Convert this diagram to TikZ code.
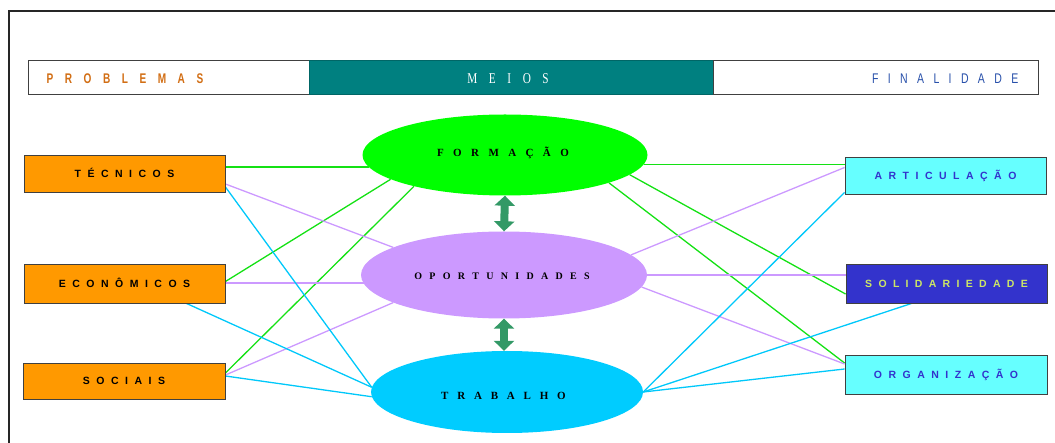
\documentclass[tikz,border=0pt]{standalone}
\usepackage{fontspec}
\usepackage{graphicx}
\setmainfont{Liberation Serif}
\setsansfont{Liberation Sans}
\usetikzlibrary{shapes.geometric,arrows.meta,calc}
\pgfdeclarelayer{background}
\pgfsetlayers{background,main}
\definecolor{cOrange}{RGB}{255,153,0}
\definecolor{cCyan}{RGB}{102,255,255}
\definecolor{cNavy}{RGB}{51,51,204}
\definecolor{cTeal}{RGB}{0,128,128}
\definecolor{cGreenF}{RGB}{0,255,0}
\definecolor{cPurple}{RGB}{204,153,255}
\definecolor{cSky}{RGB}{0,204,255}
\definecolor{cLineG}{RGB}{20,225,20}
\definecolor{cLineP}{RGB}{204,153,255}
\definecolor{cLineB}{RGB}{0,200,250}
\definecolor{cArrow}{RGB}{51,153,102}
\definecolor{cProb}{RGB}{210,110,20}
\definecolor{cFin}{RGB}{40,80,170}
\definecolor{cSolT}{RGB}{204,230,102}
\newcommand\spacedtext[2]{{\def\sptgap{#1}\sptloop#2\relax}}
\def\sptloop#1{\ifx\relax#1\unskip\else#1\hskip\sptgap\relax\expandafter\sptloop\fi}
\begin{document}
\begin{tikzpicture}[x=1pt,y=-1pt,
  lbox/.style={rectangle, draw=black!75, line width=0.9pt, minimum width=201pt,
    minimum height=37pt, inner sep=0pt, text height=7.5pt, text depth=0pt,
    font=\sffamily\bfseries\fontsize{10.5}{10.5}\selectfont},
  ell/.style={ellipse, inner sep=0pt, text height=7.5pt, text depth=0pt,
    font=\rmfamily\bfseries\fontsize{11}{11}\selectfont},
  hbox/.style={rectangle, draw=black!75, line width=1pt, minimum height=34pt, inner sep=0pt},
  htext/.style={inner sep=0pt, text height=10pt, text depth=0pt,
    font=\sffamily\bfseries\fontsize{14}{14}\selectfont},
  gl/.style={draw=cLineG, line width=1.3pt},
  pl/.style={draw=cLineP, line width=1.3pt},
  bl/.style={draw=cLineB, line width=1.3pt},
  dbl/.style={draw=cArrow, line width=8pt,
    {Triangle[width=20pt,length=10pt]}-{Triangle[width=20pt,length=10pt]}}
]
\useasboundingbox (0,0) rectangle (1055,443);
% frame
\draw[line width=2pt, black!85] (1055,11) -- (9,11) -- (9,443);

% header
\node[hbox, fill=white, minimum width=281pt] (hp) at (168.5,78) {};
\node[hbox, fill=cTeal, draw=cTeal!80!black, minimum width=404pt] (hm) at (511,78) {};
\node[hbox, fill=white, minimum width=325pt] (hf) at (875.5,78) {};
\node[htext, text=cProb, anchor=west] (tp) at ([xshift=19pt,yshift=-1pt]hp.west)
  {\scalebox{0.72}[1]{\spacedtext{16pt}{PROBLEMAS}}};
\node[htext, text=white, font=\rmfamily\fontsize{15}{15}\selectfont] (tm) at ([xshift=-3pt,yshift=-1pt]hm.center)
  {\scalebox{0.75}[1]{\spacedtext{15.5pt}{MEIOS}}};
\node[htext, font=\sffamily\fontsize{14}{14}\selectfont, text=cFin, anchor=east] (tf) at ([xshift=-20pt,yshift=-1pt]hf.east)
  {\scalebox{0.75}[1]{\spacedtext{12.5pt}{FINALIDADE}}};

% left boxes
\node[lbox, fill=cOrange] (tec) at (124.5,173.5) {\spacedtext{6.5pt}{TÉCNICOS}};
\node[lbox, fill=cOrange, minimum height=39pt] (eco) at (124.5,283.5) {\spacedtext{6.5pt}{ECONÔMICOS}};
\node[lbox, fill=cOrange, minimum width=202pt, minimum height=36pt] (soc) at (124,381) {\spacedtext{6.5pt}{SOCIAIS}};

% right boxes
\node[lbox, fill=cCyan, text=cNavy] (art) at (945.5,175.5) {\spacedtext{6.5pt}{ARTICULAÇÃO}};
\node[lbox, fill=cNavy, text=cSolT, minimum height=39pt] (sol) at (946.5,283.5) {\spacedtext{6.3pt}{SOLIDARIEDADE}};
\node[lbox, fill=cCyan, text=cNavy, minimum width=202pt, minimum height=39pt] (org) at (946,374.5) {\spacedtext{6.5pt}{ORGANIZAÇÃO}};

% ellipses
\node[ell, fill=cGreenF, minimum width=285pt, minimum height=81pt] (form) at (505,155) {};
\node[ell, anchor=center] (tform) at (503,153) {\spacedtext{9.4pt}{FORMAÇÃO}};
\node[ell, fill=cPurple, minimum width=286pt, minimum height=87pt] (opo) at (504,275) {};
\node[ell, font=\rmfamily\bfseries\fontsize{10}{10}\selectfont, text height=6.8pt] (topo) at (502,276) {\spacedtext{7.3pt}{OPORTUNIDADES}};
\node[ell, fill=cSky, minimum width=272pt, minimum height=82pt] (trab) at (507,392) {};
\node[ell] (ttrab) at (503.5,396) {\spacedtext{8.8pt}{TRABALHO}};

% connectors
\begin{pgfonlayer}{background}
\draw[gl] (form.185) -- (form.185 -| tec.east);
\draw[gl] ([yshift=2pt]eco.east) -- (form.192);
\draw[gl] ([yshift=8pt]soc.east) -- (form.199);
\draw[gl] (form.356) -- (form.356 -| art.west);
\draw[gl] (form.351) -- ([yshift=-10.5pt]sol.west);
\draw[gl] (form.345) -- ([yshift=11.5pt]org.west);

\draw[pl] ([yshift=0.5pt]eco.east) -- ([yshift=0.5pt]eco.east -| opo.center);
\draw[pl] ([yshift=-10.5pt]tec.east) -- (opo.166);
\draw[pl] ([yshift=6pt]soc.east) -- (opo.194);
\draw[pl] (opo.9) -- ([yshift=8pt]art.west);
\draw[pl] (opo.center) -- (opo.center -| sol.west);
\draw[pl] (opo.355) -- ([yshift=10.5pt]org.west);

\draw[bl] ([yshift=-13.5pt]tec.east) -- (trab.178);
\draw[bl] ([xshift=62pt]eco.south) -- (trab.178);
\draw[bl] ([yshift=5pt]soc.east) -- (trab.182);
\draw[bl] (trab.east) -- ([yshift=2pt]art.south west);
\draw[bl] (trab.east) -- ([xshift=-35pt]sol.south);
\draw[bl] (trab.east) -- ([yshift=5.5pt]org.west);
\end{pgfonlayer}

% double arrows
\draw[dbl] (form.south) -- (opo.north);
\draw[dbl] (opo.south) -- (opo.south |- trab.north);
\end{tikzpicture}
\end{document}
